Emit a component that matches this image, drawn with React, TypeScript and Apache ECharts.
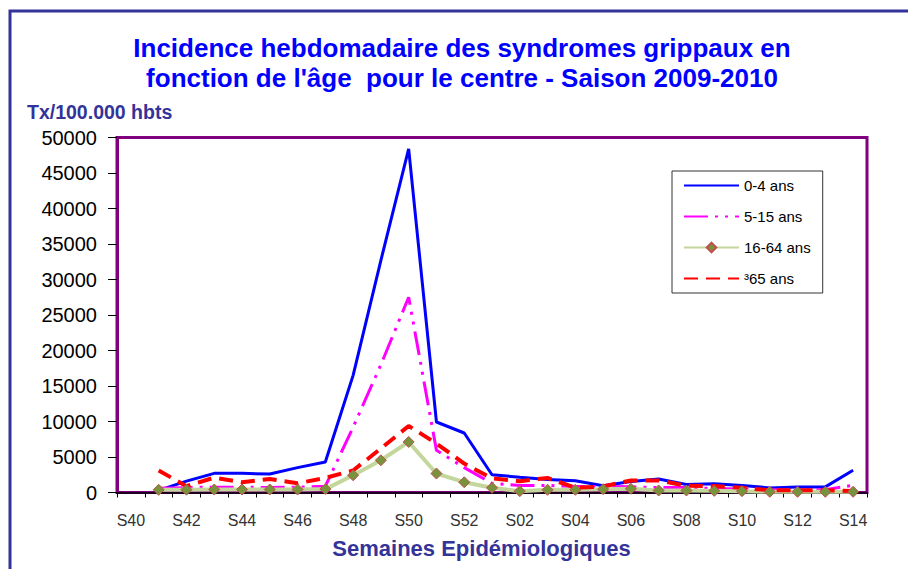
import React, { useEffect, useRef } from 'react';
import * as echarts from 'echarts';

const FONT = '"Liberation Sans", Arial, Helvetica, sans-serif';

const categories = [
  'S40', 'S41', 'S42', 'S43', 'S44', 'S45', 'S46', 'S47', 'S48', 'S49', 'S50', 'S51', 'S52',
  'S01', 'S02', 'S03', 'S04', 'S05', 'S06', 'S07', 'S08', 'S09', 'S10', 'S11', 'S12', 'S13', 'S14',
];

const seriesNames = ['0-4 ans', '5-15 ans', '16-64 ans', '³65 ans'];

const values0to4 = [null, 300, 1600, 2700, 2700, 2600, 3500, 4300, 16500, 32700, 48400, 9930, 8380,
  2500, 2150, 1830, 1650, 950, 1550, 1900, 1130, 1220, 1000, 650, 790, 790, 3140];
const values5to15 = [null, 600, 700, 750, 750, 700, 750, 880, 9200, 18000, 27500, 5950, 3500,
  1300, 1000, 1000, 850, 850, 800, 700, 700, 550, 500, 400, 400, 400, 1030];
const values16to64 = [null, 380, 400, 420, 420, 420, 420, 480, 2430, 4540, 7120, 2670, 1450,
  660, 190, 380, 380, 470, 520, 280, 280, 230, 190, 100, 100, 100, 100];
const values65plus = [null, 3100, 890, 2100, 1450, 1900, 1300, 2050, 3100, 6200, 9370, 6900, 4080,
  2000, 1600, 2050, 660, 850, 1700, 1700, 940, 900, 660, 320, 320, 320, 200];

const titleText = "Incidence hebdomadaire des syndromes grippaux en\nfonction de l'âge  pour le centre - Saison 2009-2010";
const yName = 'Tx/100.000 hbts';
const xName = 'Semaines Epidémiologiques';

export default function App() {
  const ref = useRef<HTMLDivElement>(null);
  useEffect(() => {
    document.body.style.margin = '0';
    const chart = echarts.init(ref.current as HTMLDivElement, null, { renderer: 'svg' });
    const hiddenSymbol = { opacity: 0 };
    chart.setOption({
      animation: false,
      backgroundColor: '#ffffff',
      title: {
        text: titleText,
        left: 462,
        top: 33,
        textAlign: 'center',
        padding: 0,
        textStyle: { color: '#0000FF', fontSize: 26, fontWeight: 'bold', lineHeight: 30, fontFamily: FONT },
      },
      graphic: [
        {
          type: 'rect',
          silent: true,
          z: -10,
          shape: { x: 10, y: 11, width: 1200, height: 1200 },
          style: { fill: 'none', stroke: '#333399', lineWidth: 3 },
        },
        {
          type: 'text',
          x: 27,
          y: 112,
          style: {
            text: yName, fill: '#333399', fontSize: 19.5, fontWeight: 'bold', fontFamily: FONT,
            align: 'left', verticalAlign: 'middle',
          },
        },
        {
          type: 'text',
          x: 481.5,
          y: 548,
          style: {
            text: xName, fill: '#333399', fontSize: 22, fontWeight: 'bold', fontFamily: FONT,
            align: 'center', verticalAlign: 'middle',
          },
        },
      ],
      legend: {
        orient: 'vertical',
        left: 672,
        top: 171,
        padding: [7, 12, 7, 11],
        itemWidth: 55,
        itemHeight: 12,
        itemGap: 16,
        backgroundColor: '#ffffff',
        borderColor: '#333333',
        borderWidth: 1,
        borderRadius: 0,
        textStyle: { fontSize: 15, color: '#000000', fontFamily: FONT, lineHeight: 15 },
        data: [
          { name: seriesNames[0], itemStyle: hiddenSymbol },
          { name: seriesNames[1], itemStyle: hiddenSymbol },
          { name: seriesNames[2] },
          { name: seriesNames[3], itemStyle: hiddenSymbol },
        ],
      },
      grid: {
        left: 117,
        top: 137.5,
        right: 41,
        bottom: 76.5,
        show: true,
        borderColor: '#800080',
        borderWidth: 3,
        backgroundColor: '#ffffff',
      },
      xAxis: {
        type: 'category',
        data: categories,
        boundaryGap: true,
        axisLine: { lineStyle: { color: '#200020', width: 2 } },
        axisTick: { show: true, interval: 0, length: 5, lineStyle: { color: '#000000' } },
        axisLabel: { interval: 1, margin: 20, fontSize: 16, color: '#333333', fontFamily: FONT },
        splitLine: { show: false },
      },
      yAxis: {
        type: 'value',
        min: 0,
        max: 50000,
        interval: 5000,
        axisLine: { show: true, lineStyle: { color: '#800080', width: 3 } },
        axisTick: { show: true, length: 9, lineStyle: { color: '#000000' } },
        axisLabel: {
          margin: 20, fontSize: 20, color: '#000000', fontFamily: FONT,
          formatter: (v: number) => String(v),
        },
        splitLine: { show: false },
      },
      series: [
        {
          name: seriesNames[0],
          type: 'line',
          data: values0to4,
          symbol: 'none',
          lineStyle: { color: '#0000FF', width: 3 },
          itemStyle: { color: '#0000FF' },
        },
        {
          name: seriesNames[1],
          type: 'line',
          data: values5to15,
          symbol: 'none',
          lineStyle: { color: '#FF00FF', width: 3, type: [24, 7, 3, 7, 3, 7] },
          itemStyle: { color: '#FF00FF' },
        },
        {
          name: seriesNames[2],
          type: 'line',
          data: values16to64,
          symbol: 'diamond',
          symbolSize: 11,
          lineStyle: { color: '#C3D69B', width: 4 },
          itemStyle: { color: '#77933C', borderColor: '#C0504D', borderWidth: 1 },
        },
        {
          name: seriesNames[3],
          type: 'line',
          data: values65plus,
          symbol: 'none',
          lineStyle: { color: '#FF0000', width: 4, type: [14, 8] },
          itemStyle: { color: '#FF0000' },
        },
      ],
    });
    return () => chart.dispose();
  }, []);
  return (
    <div
      ref={ref}
      style={{ position: 'absolute', left: 0, top: 0, width: 908, height: 569, background: '#ffffff' }}
    />
  );
}
